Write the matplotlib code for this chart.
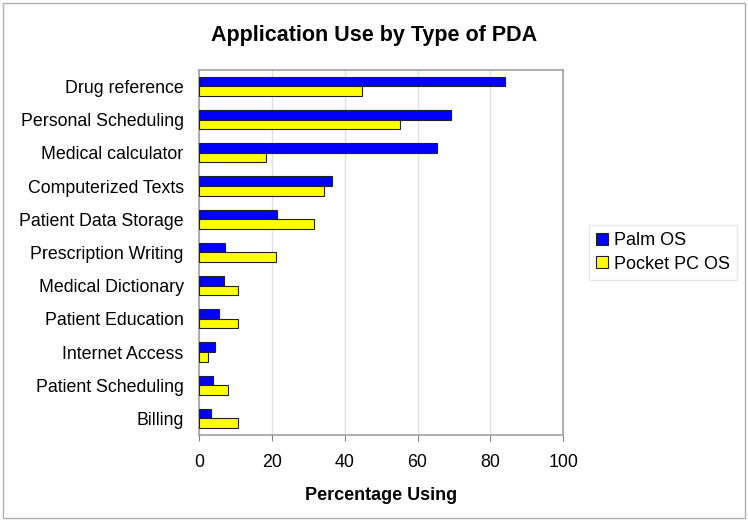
import matplotlib.pyplot as plt
import numpy as np
from matplotlib.patches import Rectangle

plt.rcParams['font.family'] = ['Liberation Sans', 'DejaVu Sans']

categories = ['Drug reference', 'Personal Scheduling', 'Medical calculator',
              'Computerized Texts', 'Patient Data Storage', 'Prescription Writing',
              'Medical Dictionary', 'Patient Education', 'Internet Access',
              'Patient Scheduling', 'Billing']
palm = [84.0, 69.3, 65.3, 36.5, 21.4, 7.2, 6.9, 5.6, 4.5, 3.9, 3.2]
pocket = [44.7, 55.1, 18.5, 34.3, 31.7, 21.1, 10.6, 10.6, 2.6, 7.9, 10.6]

fig = plt.figure(figsize=(7.48, 5.21), dpi=100)
fig.patches.append(Rectangle((0.004, 0.006), 0.992, 0.988, transform=fig.transFigure,
                             fill=False, edgecolor='#b0b0b0', lw=1))
ax = fig.add_axes([0.266, 0.165, 0.487, 0.701])

n = len(categories)
y = np.arange(n)[::-1]
h = 0.29
ax.barh(y + h / 2, palm, height=h, color='#0000ff', edgecolor='#202020', lw=0.8, label='Palm OS', zorder=3)
ax.barh(y - h / 2, pocket, height=h, color='#ffff00', edgecolor='#202020', lw=0.8, label='Pocket PC OS', zorder=3)

ax.set_xlim(0, 100)
ax.set_ylim(-0.5, n - 0.5)
ax.set_xticks(np.arange(0, 101, 20))
ax.set_yticks(y)
ax.set_yticklabels(categories, fontsize=12.8)
ax.tick_params(axis='y', length=0, pad=11)
ax.tick_params(axis='x', labelsize=12.8, length=4, color='#808080', pad=10)
ax.xaxis.grid(True, color='#e0e0e0', lw=1, zorder=0)
for s in ax.spines.values():
    s.set_color('#a0a0a0')
    s.set_linewidth(1.2)

ax.set_xlabel('Percentage Using', fontsize=13, fontweight='bold', labelpad=11)
fig.suptitle('Application Use by Type of PDA', fontsize=15.5, fontweight='bold', y=0.952)

leg = ax.legend(loc='center left', bbox_to_anchor=(1.07, 0.5), fontsize=13,
                frameon=True, fancybox=False, edgecolor='#e0e0e0',
                handlelength=0.65, handleheight=0.65, handletextpad=0.35,
                borderpad=0.4, labelspacing=0.35, borderaxespad=0)

fig.savefig('out.png', dpi=100)
